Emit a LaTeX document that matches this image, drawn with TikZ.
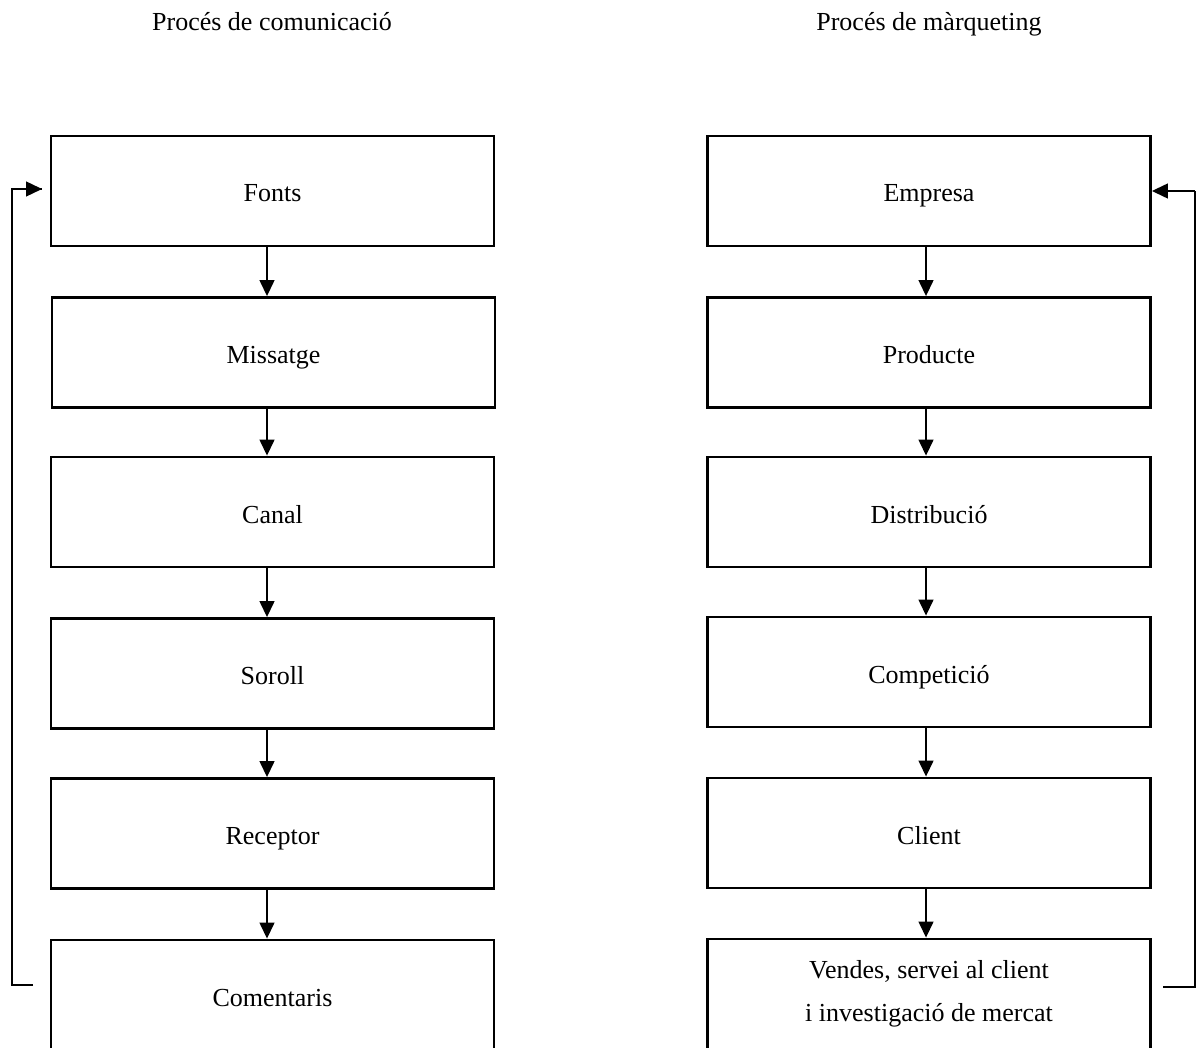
\documentclass[tikz,border=0pt]{standalone}
\usepackage{fontspec}
\setmainfont{Liberation Serif}
\usetikzlibrary{arrows.meta}
\begin{document}
\begin{tikzpicture}[x=1pt,y=-1pt,
  boxbase/.style={draw,line width=2.9pt,minimum width=443pt,minimum height=110pt,
    inner sep=0pt,font=\fontsize{26}{43}\selectfont},
  procbox/.style={boxbase,text height=22pt,text depth=0pt},
  twoline/.style={boxbase,align=center},
  title/.style={font=\fontsize{26}{31}\selectfont,text height=18pt,text depth=0pt},
  flow/.style={line width=1.4pt,-{Triangle[length=16pt,width=15pt]}},
  loop/.style={line width=1.4pt}]
\useasboundingbox (0,0) rectangle (1196,1048);
\clip (0,0) rectangle (1196,1048);

% column titles
\node[title] (t1) at (272,22) {Procés de comunicació};
\node[title] (t2) at (929,22) {Procés de màrqueting};

% communication process
\node[procbox] (fonts) at (272.5,191) {Fonts};
\node[procbox] (miss)  at (273.5,352.5) {Missatge};
\node[procbox] (canal) at (272.5,512) {Canal};
\node[procbox] (sor)   at (272.5,673.5) {Soroll};
\node[procbox] (rec)   at (272.5,833.5) {Receptor};
\node[procbox] (com)   at (272.5,995) {Comentaris};

% marketing process
\node[procbox] (emp)  at (929,191) {Empresa};
\node[procbox] (prod) at (929,352.5) {Producte};
\node[procbox] (dist) at (929,512) {Distribució};
\node[procbox] (comp) at (929,672) {Competició};
\node[procbox] (cli)  at (929,833) {Client};
\node[twoline] (ven)  at (929,994) {Vendes, servei al client\\i investigació de mercat};

% downward flow arrows
\foreach \a/\b in {fonts/miss,miss/canal,canal/sor,sor/rec,rec/com}
  \draw[flow] (267,0 |- \a.south) -- (267,0 |- \b.north);
\foreach \a/\b in {emp/prod,prod/dist,dist/comp,comp/cli,cli/ven}
  \draw[flow] (926,0 |- \a.south) -- (926,0 |- \b.north);

% feedback loops
\coordinate (lfb1) at (33,985);
\coordinate (lfb2) at (12,985);
\coordinate (lfb3) at (12,189);
\coordinate (lfb4) at (42,189);
\draw[loop] (lfb1) -- (lfb2) -- (lfb3) -- (lfb4);
\draw[flow] (lfb3) -- (lfb4);

\coordinate (rfb1) at (1163,987);
\coordinate (rfb2) at (1195,987);
\coordinate (rfb3) at (1195,191);
\draw[loop] (rfb1) -- (rfb2) -- (rfb3);
\draw[flow] (rfb3) -- (emp.east |- rfb3);
\end{tikzpicture}
\end{document}
